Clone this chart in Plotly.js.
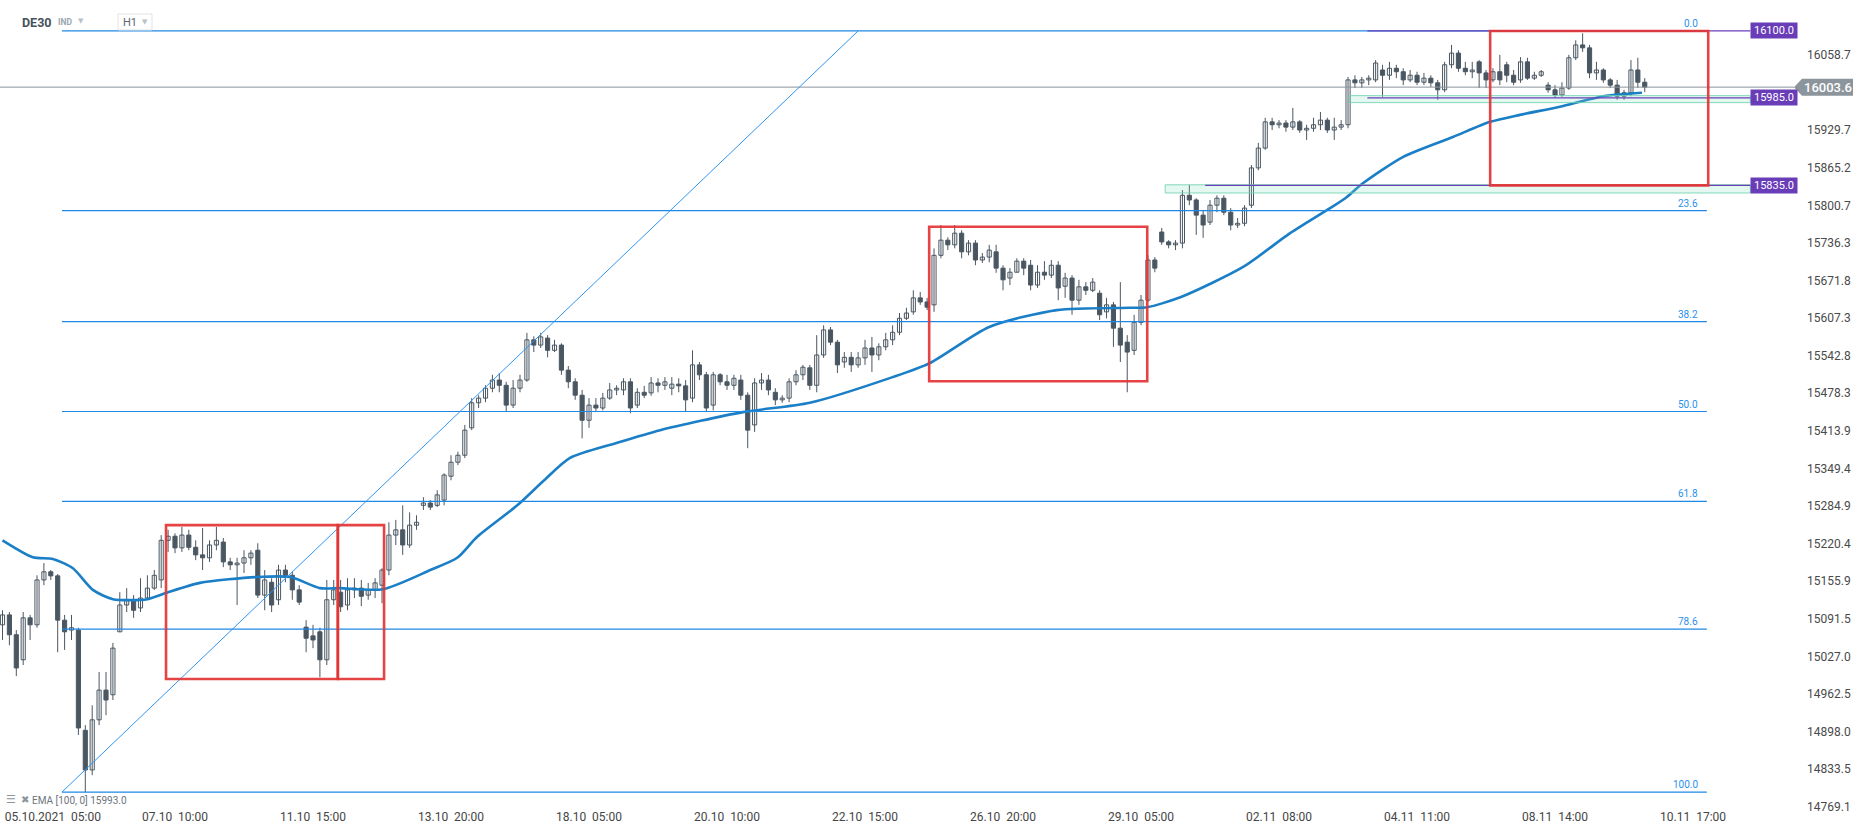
<!DOCTYPE html>
<html>
<head>
<meta charset="utf-8">
<script src="https://cdn.plot.ly/plotly-3.0.1.min.js"></script>
<style>
html,body{margin:0;padding:0;background:#fff;}
#chart{width:1866px;height:832px;}
</style>
</head>
<body>
<div id="chart"></div>
<script>
// ---------------- DATA (DE30, H1) ----------------
const openP = [
15081,15098,15064,15021,15093,15081,15158,15172,15165,15089,
15072,15072,14900,14832,14918,14969,14961,15069,15115,15124,
15110,15127,15144,15158,15226,15233,15213,15235,15214,15201,
15196,15218,15223,15189,15184,15187,15196,15209,15132,15154,
15124,15175,15166,15141,15077,15062,15069,15021,15124,15137,
15115,15141,15144,15132,15141,15149,15175,15235,15244,15218,
15252,15286,15290,15286,15295,15336,15360,15372,15419,15462,
15470,15487,15501,15492,15458,15487,15501,15570,15561,15573,
15552,15561,15518,15498,15475,15432,15458,15453,15470,15484,
15484,15498,15458,15480,15479,15496,15492,15487,15494,15491,
15470,15527,15510,15458,15510,15498,15492,15501,15475,15424,
15496,15501,15480,15467,15470,15498,15510,15522,15492,15544,
15587,15566,15532,15540,15527,15539,15556,15544,15558,15570,
15583,15607,15618,15642,15635,15630,15715,15741,15733,15753,
15721,15736,15707,15712,15721,15693,15676,15686,15705,15698,
15664,15686,15681,15698,15662,15676,15638,15661,15655,15650,
15618,15630,15590,15566,15552,15600,15638,15707,15755,15738,
15733,15736,15818,15810,15784,15772,15801,15813,15789,15767,
15770,15801,15865,15899,15944,15939,15942,15935,15944,15930,
15933,15939,15947,15930,15935,15939,16016,16011,16016,16016,
16033,16024,16036,16030,16016,16024,16012,16019,16011,15999,
16042,16062,16036,16030,16047,16028,16016,16030,16042,16024,
16016,16047,16019,16024,16007,15999,15990,16002,16054,16076,
16071,16028,16033,16016,16007,15988,15994,16033,16012];

const highP = [
15106,15103,15072,15103,15098,15166,15187,15175,15168,15098,
15098,15076,14909,14943,15000,15000,15050,15137,15144,15132,
15161,15166,15175,15235,15244,15238,15249,15244,15226,15247,
15226,15249,15230,15196,15196,15209,15209,15221,15175,15161,
15184,15184,15172,15149,15089,15081,15076,15158,15158,15158,
15161,15161,15158,15153,15161,15178,15257,15261,15286,15274,
15269,15300,15295,15312,15341,15372,15378,15424,15470,15475,
15492,15510,15513,15498,15501,15510,15582,15576,15582,15578,
15570,15564,15525,15504,15484,15470,15470,15479,15496,15492,
15504,15504,15487,15491,15506,15504,15506,15506,15504,15501,
15552,15532,15515,15515,15513,15510,15510,15510,15480,15504,
15513,15510,15487,15475,15504,15518,15527,15527,15578,15595,
15592,15570,15549,15549,15549,15570,15575,15564,15582,15595,
15616,15625,15655,15652,15642,15727,15767,15746,15767,15758,
15741,15741,15719,15733,15733,15698,15693,15710,15710,15707,
15698,15705,15707,15705,15685,15681,15673,15669,15676,15655,
15642,15635,15669,15578,15613,15647,15715,15712,15762,15741,
15741,15827,15836,15813,15793,15810,15818,15818,15796,15779,
15801,15870,15908,15951,15951,15947,15947,15968,15947,15939,
15951,15961,15951,15951,15947,16021,16024,16021,16024,16050,
16042,16047,16042,16036,16033,16030,16028,16024,16016,16047,
16076,16067,16047,16047,16050,16033,16036,16059,16047,16033,
16055,16054,16030,16033,16012,16007,16012,16059,16084,16096,
16076,16047,16036,16019,16016,15999,16050,16054,16019];

const lowP = [
15055,15046,14993,15012,15055,15076,15149,15158,15034,15038,
15055,14892,14794,14823,14909,14926,14952,15069,15103,15093,
15103,15124,15141,15144,15206,15204,15206,15209,15192,15175,
15189,15209,15180,15175,15115,15170,15184,15127,15106,15103,
15115,15154,15124,15115,15034,15041,14991,15012,15115,15103,
15106,15127,15113,15124,15127,15118,15166,15218,15201,15213,
15244,15278,15278,15283,15286,15329,15355,15367,15415,15453,
15463,15480,15480,15446,15453,15480,15498,15549,15556,15540,
15549,15510,15487,15467,15401,15419,15446,15449,15467,15475,
15475,15444,15453,15470,15474,15480,15484,15475,15480,15446,
15463,15501,15446,15449,15492,15484,15484,15467,15384,15412,
15484,15475,15458,15462,15463,15492,15501,15484,15480,15539,
15561,15513,15522,15515,15522,15527,15515,15535,15552,15561,
15578,15604,15613,15630,15621,15618,15710,15724,15727,15710,
15715,15698,15702,15703,15685,15655,15664,15686,15681,15655,
15659,15673,15676,15638,15642,15613,15630,15647,15652,15604,
15607,15558,15532,15480,15544,15595,15635,15686,15733,15727,
15724,15727,15801,15750,15745,15767,15789,15784,15758,15762,
15765,15796,15861,15896,15930,15933,15927,15930,15925,15913,
15927,15930,15925,15913,15930,15933,16002,16002,16007,16012,
15987,16016,16019,16007,16012,16007,16007,16004,15982,15995,
16036,16030,16024,16019,16002,16002,16012,16007,16012,16007,
16011,16016,16016,16021,15994,15985,15987,15999,16050,16064,
16019,16016,16011,16002,15982,15982,15988,16002,15995];

const closeP = [
15098,15064,15007,15093,15081,15158,15172,15165,15089,15069,
15076,14904,14832,14918,14969,14952,15041,15115,15124,15106,
15127,15144,15166,15226,15233,15213,15235,15214,15201,15196,
15218,15226,15189,15184,15187,15196,15204,15132,15158,15115,
15175,15166,15141,15120,15058,15055,15021,15124,15141,15112,
15141,15144,15130,15141,15153,15175,15235,15244,15218,15252,
15257,15290,15283,15304,15338,15360,15372,15415,15462,15470,
15487,15501,15492,15458,15487,15501,15570,15561,15575,15552,
15561,15518,15498,15475,15432,15458,15453,15470,15484,15487,
15498,15453,15480,15475,15496,15492,15498,15494,15491,15467,
15527,15510,15453,15510,15498,15492,15504,15475,15415,15496,
15501,15484,15467,15470,15498,15510,15523,15492,15544,15587,
15566,15527,15540,15527,15539,15556,15544,15558,15570,15583,
15607,15616,15642,15635,15626,15715,15741,15733,15753,15721,
15736,15707,15712,15724,15693,15673,15686,15705,15693,15664,
15686,15681,15698,15659,15676,15638,15661,15655,15669,15613,
15630,15590,15561,15549,15600,15638,15707,15693,15738,15733,
15736,15818,15810,15784,15767,15801,15813,15789,15767,15770,
15796,15865,15899,15944,15939,15942,15935,15944,15930,15933,
15939,15947,15930,15935,15939,16016,16011,16016,16019,16045,
16024,16036,16030,16016,16024,16012,16019,16011,15999,16042,
16062,16036,16030,16033,16028,16016,16030,16016,16024,16012,
16047,16019,16024,16030,15999,15990,16002,16054,16076,16071,
16028,16033,16016,16007,15988,15994,16033,16012,16003.6];

// EMA(100) read at bar positions
const emaBar = [0,4.4,7.3,10.2,13.1,16,21,23.8,28.6,36.9,41.7,46,48.9,55.1,62,65.9,68.8,74.6,78.5,82.2,89,95.3,107.3,117,129,134.4,143,152.8,163.4,165.9,170.7,179.8,186.6,192.4,194.6,197.2,203,210.2,215.6,219.9,225.7,232,237.6];
const emaVal = [15226,15197,15194,15178,15141,15125,15125,15136,15153,15163,15163,15144,15144,15142,15175,15196,15232,15286,15329,15367,15393,15415,15446,15462,15506,15530,15592,15621,15625,15626,15643,15695,15753,15796,15813,15839,15884,15918,15944,15956,15970,15988,15994];

// X tick labels (bar index where the label sits)
const xTickBar = [7.3,25,45,65,85,105,125,145,165,185,205,225,245];
const xTickLabel = ["05.10.2021  05:00","07.10  10:00","11.10  15:00","13.10  20:00","18.10  05:00","20.10  10:00","22.10  15:00","26.10  20:00","29.10  05:00","02.11  08:00","04.11  11:00","08.11  14:00","10.11  17:00"];

// Y tick values shown on the price scale
const yTickVals = [16058.7,15929.7,15865.2,15800.7,15736.3,15671.8,15607.3,15542.8,15478.3,15413.9,15349.4,15284.9,15220.4,15155.9,15091.5,15027.0,14962.5,14898.0,14833.5,14769.1];

// Fibonacci retracement
const fibHigh = 16100.0, fibLow = 14794.0;
const fibRatios = [0, 0.236, 0.382, 0.5, 0.618, 0.786, 1.0];
const fibLabels = ["0.0","23.6","38.2","50.0","61.8","78.6","100.0"];
const fibStartBar = 8.62, fibEndBar = 247.0;

// Trend line (from swing low to swing high)
const trendBar = [8.62, 124.0], trendVal = [14794.0, 16100.0];

// Rectangles drawn on the chart [barStart, barEnd, priceLow, priceHigh]
const redBoxes = [[23.7,48.6,14988,15252],[48.6,55.3,14988,15252],[134.3,165.9,15499,15764],[215.6,247.2,15835,16100]];
const zoneBoxes = [[195.2,253.3,15977,15989],[168.5,253.3,15822,15836]];
// Horizontal levels with tags [barStart, price]
const hLevels = [[197.8,16100.0],[197.8,15985.0],[174.3,15835.0]];
const lastPrice = 16003.6;
const emaLegend = "EMA [100, 0] 15993.0";

// ---------------- LAYOUT HELPERS ----------------
const PW = 1800, PH = 808;
const px = x => x / PW;
const py = y => 1 - y / PH;
const nbsp = s => s.replace(/ /g, "\u00a0");
const CANDLE = '#4a5762';

const bars = closeP.map((_, i) => i);

// wicks
const wx = [], wy = [];
bars.forEach(i => { wx.push(i, i, null); wy.push(lowP[i], highP[i], null); });
// bodies split into rising (hollow) and falling (filled)
const upX = [], upBase = [], upLen = [], dnX = [], dnBase = [], dnLen = [];
bars.forEach(i => {
  const o = openP[i], c = closeP[i];
  if (c >= o) { upX.push(i); upBase.push(o); upLen.push(c - o); }
  else { dnX.push(i); dnBase.push(c); dnLen.push(o - c); }
});

const traces = [
  {type:'scatter', mode:'lines', x:wx, y:wy, line:{color:CANDLE, width:1}, hoverinfo:'skip', showlegend:false, connectgaps:false},
  {type:'bar', x:upX, base:upBase, y:upLen, width:0.6, marker:{color:'#ffffff', line:{color:CANDLE, width:1}}, hoverinfo:'skip', showlegend:false},
  {type:'bar', x:dnX, base:dnBase, y:dnLen, width:0.6, marker:{color:CANDLE, line:{color:CANDLE, width:1}}, hoverinfo:'skip', showlegend:false},
  {type:'scatter', mode:'lines', x:emaBar, y:emaVal,
    line:{color:'#1a7fc6', width:2.6, shape:'spline', smoothing:0.7}, hoverinfo:'skip', showlegend:false}
];

const shapes = [];
const annotations = [];

// last price line
shapes.push({type:'line', xref:'paper', yref:'y', x0:0, x1:px(1794), y0:lastPrice, y1:lastPrice, line:{color:'#8b959b', width:1}});

// fib lines + labels
fibRatios.forEach((r, i) => {
  const lvl = fibHigh - r * (fibHigh - fibLow);
  shapes.push({type:'line', xref:'x', yref:'y', x0:fibStartBar, x1:fibEndBar, y0:lvl, y1:lvl, line:{color:'#1e88e5', width:1.2}});
  annotations.push({xref:'x', yref:'y', x:246.0, y:lvl, text:fibLabels[i], showarrow:false, xanchor:'right', yanchor:'bottom', yshift:0,
    font:{family:'Roboto', size:10, color:'#2a90ea'}});
});

// trend line
shapes.push({type:'line', xref:'x', yref:'y', x0:trendBar[0], y0:trendVal[0], x1:trendBar[1], y1:trendVal[1], line:{color:'#2f95f0', width:1}});

// zones
zoneBoxes.forEach(b => shapes.push({type:'rect', xref:'x', yref:'y', x0:b[0], x1:b[1], y0:b[2], y1:b[3],
  fillcolor:'rgba(130,220,190,0.22)', line:{color:'rgba(110,210,175,0.85)', width:1}}));

// purple levels
hLevels.forEach(h => shapes.push({type:'line', xref:'x', yref:'y', x0:h[0], x1:253.3, y0:h[1], y1:h[1], line:{color:'#6a3fb8', width:1.2}}));

// red boxes
redBoxes.forEach(b => shapes.push({type:'rect', xref:'x', yref:'y', x0:b[0], x1:b[1], y0:b[2], y1:b[3],
  fillcolor:'rgba(0,0,0,0)', line:{color:'rgba(228,52,52,0.92)', width:2.6}}));

// purple tags
hLevels.forEach(h => annotations.push({xref:'paper', yref:'y', x:px(1774), y:h[1], text:h[1].toFixed(1), showarrow:false,
  xanchor:'center', yanchor:'middle', bgcolor:'#6a3db8', width:44, height:13, borderpad:1,
  font:{family:'Roboto', size:11, color:'#ffffff'}}));

// last price tag (arrow box)
const yTop = lastPrice + 8.5 * (16153.1 - 14766.7) / PH;
const yBot = lastPrice - 8.5 * (16153.1 - 14766.7) / PH;
shapes.push({type:'path', xref:'paper', yref:'y',
  path:`M ${px(1794)} ${lastPrice} L ${px(1802)} ${yTop} L ${px(1853)} ${yTop} L ${px(1853)} ${yBot} L ${px(1802)} ${yBot} Z`,
  fillcolor:'#8b959b', line:{width:0}});
annotations.push({xref:'paper', yref:'y', x:px(1827.5), y:lastPrice, text:lastPrice.toFixed(1), showarrow:false,
  xanchor:'center', yanchor:'middle', font:{family:'Roboto', size:13, color:'#ffffff', weight:500}});

// header
annotations.push({xref:'paper', yref:'paper', x:px(20), y:py(22), text:'DE30', showarrow:false, xanchor:'left', yanchor:'middle',
  font:{family:'Roboto', size:12.5, color:'#46525b', weight:'bold'}});
annotations.push({xref:'paper', yref:'paper', x:px(56), y:py(22), text:'IND', showarrow:false, xanchor:'left', yanchor:'middle',
  font:{family:'Roboto', size:8.5, color:'#9aa6ae', weight:'bold'}});
annotations.push({xref:'paper', yref:'paper', x:px(76), y:py(21), text:'▼', showarrow:false, xanchor:'left', yanchor:'middle',
  font:{family:'DejaVu Sans', size:7, color:'#b9c1c7'}});
shapes.push({type:'rect', xref:'paper', yref:'paper', x0:px(118), x1:px(152), y0:py(30), y1:py(14), fillcolor:'#ffffff', line:{color:'#dfe3e6', width:1}});
annotations.push({xref:'paper', yref:'paper', x:px(121), y:py(22.5), text:'H1', showarrow:false, xanchor:'left', yanchor:'middle',
  font:{family:'Roboto', size:11, color:'#5c666e'}});
annotations.push({xref:'paper', yref:'paper', x:px(140), y:py(22), text:'▼', showarrow:false, xanchor:'left', yanchor:'middle',
  font:{family:'DejaVu Sans', size:7, color:'#b9c1c7'}});

// EMA legend
annotations.push({xref:'paper', yref:'paper', x:px(4), y:py(799), text:'☰', showarrow:false, xanchor:'left', yanchor:'middle',
  font:{family:'DejaVu Sans', size:11, color:'#8c959b'}});
annotations.push({xref:'paper', yref:'paper', x:px(19), y:py(799), text:'✖', showarrow:false, xanchor:'left', yanchor:'middle',
  font:{family:'DejaVu Sans', size:10, color:'#8c959b'}});
annotations.push({xref:'paper', yref:'paper', x:px(30), y:py(800), text:emaLegend, showarrow:false, xanchor:'left', yanchor:'middle',
  font:{family:'Roboto', size:10, color:'#6b757c'}});

const layout = {
  width: 1866, height: 832,
  margin: {l:0, r:66, t:0, b:24, pad:0},
  paper_bgcolor: '#ffffff', plot_bgcolor: '#ffffff',
  font: {family: 'Roboto, "DejaVu Sans", sans-serif', size: 12, color: '#444'},
  showlegend: false,
  barmode: 'overlay',
  xaxis: {
    type:'linear', range:[-0.362, 260.5], fixedrange:true,
    tickmode:'array', tickvals:xTickBar, ticktext:xTickLabel.map(nbsp),
    ticks:'', showgrid:false, zeroline:false, showline:false,
    tickfont:{family:'Roboto', size:12, color:'#454545'}
  },
  yaxis: {
    side:'right', range:[14766.7, 16153.1], fixedrange:true,
    tickmode:'array', tickvals:yTickVals, ticktext:yTickVals.map(v => v.toFixed(1)),
    ticks:'', ticklabelstandoff:6, showgrid:false, zeroline:false, showline:false,
    tickfont:{family:'Roboto', size:12, color:'#4a4a4a'}
  },
  shapes: shapes,
  annotations: annotations
};

Plotly.newPlot('chart', traces, layout, {staticPlot:true, displayModeBar:false});
</script>
</body>
</html>
